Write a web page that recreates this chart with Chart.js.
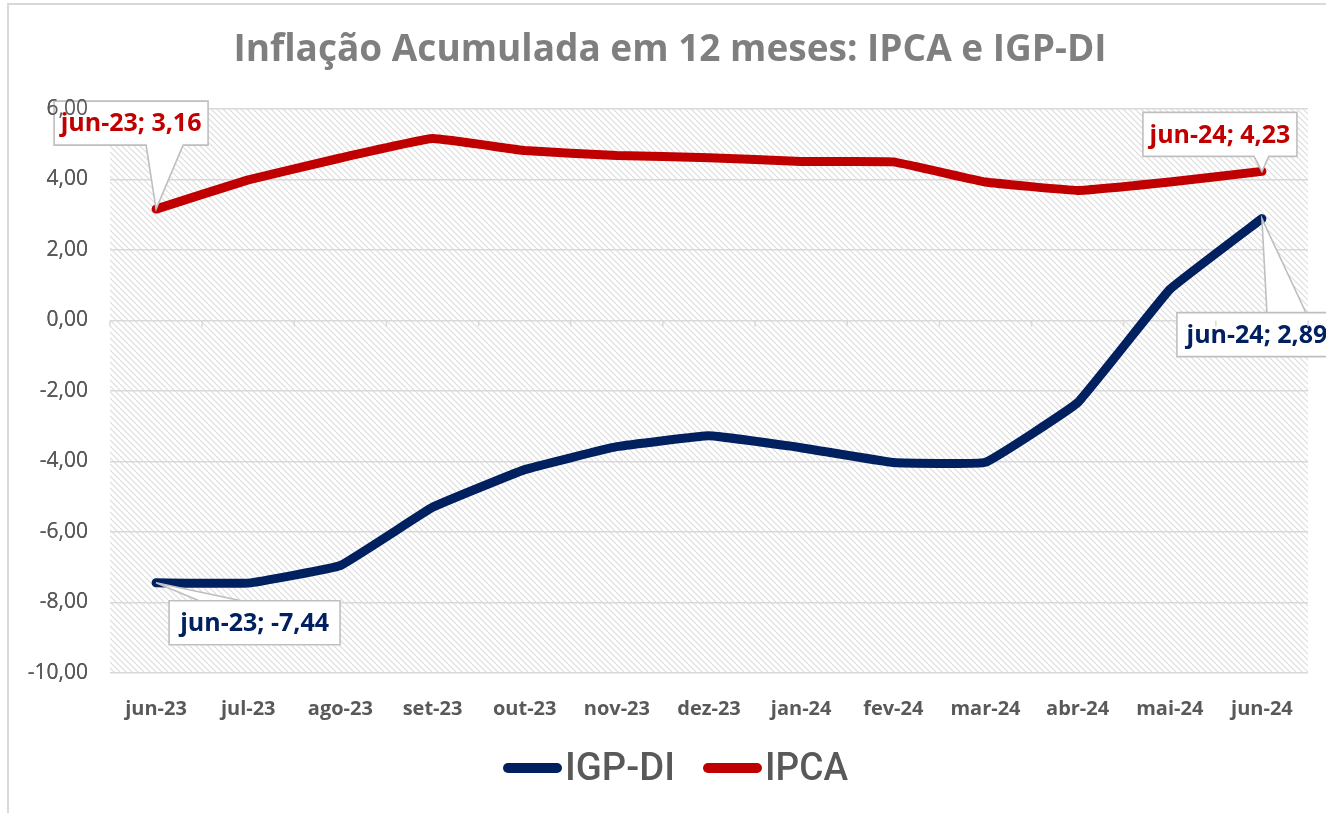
<!DOCTYPE html>
<html>
<head>
<meta charset="utf-8">
<script src="https://cdn.jsdelivr.net/npm/chart.js@4/dist/chart.umd.min.js"></script>
<style>
  html, body { margin: 0; padding: 0; background: #ffffff; overflow: hidden; }
  canvas { display: block; }
</style>
</head>
<body>
<canvas id="c" width="1326" height="813"></canvas>
<script>
// ---- data ----
const categories = ['jun-23','jul-23','ago-23','set-23','out-23','nov-23','dez-23','jan-24','fev-24','mar-24','abr-24','mai-24','jun-24'];
const igpdi = [-7.44, -7.45, -6.95, -5.30, -4.23, -3.58, -3.27, -3.61, -4.03, -4.02, -2.33, 0.88, 2.89];
const ipca  = [3.16, 3.99, 4.61, 5.16, 4.82, 4.68, 4.62, 4.51, 4.50, 3.93, 3.69, 3.93, 4.23];
const seriesNames = ['IGP-DI', 'IPCA'];
const titleText = 'Inflação Acumulada em 12 meses: IPCA e IGP-DI';
const yMin = -10, yMax = 6, yStep = 2;

const NAVY = '#002060';
const RED = '#C00000';
const GRID = '#d9d9d9';
const TXT = '#595959';
const FONT = '"Open Sans", "Liberation Sans", Arial, sans-serif';

const fmt = v => v.toFixed(2).replace('.', ',');

// callout styling: which point, box offset relative to point, pointer base on box edge
const callouts = [
  { ds: 1, idx: 0,  dx: -102, dy: -108, w: 154, h: 44, edge: 'bottom', b1: -10, b2: 27, size: 25 },
  { ds: 1, idx: 12, dx: -119, dy: -59,  w: 154, h: 44, edge: 'bottom', b1: -8, b2: 7, size: 25 },
  { ds: 0, idx: 12, dx: -85,  dy: 94,   w: 160, h: 44, edge: 'top', b1: 5, b2: 44, size: 25 },
  { ds: 0, idx: 0,  dx: 13,   dy: 18,   w: 171, h: 44, edge: 'top', b1: 43, b2: 85, size: 25 }
];

// hatch pattern
function makeHatch() {
  const s = 6;
  const p = document.createElement('canvas');
  p.width = s; p.height = s;
  const g = p.getContext('2d');
  g.strokeStyle = '#dcdcdc';
  g.lineWidth = 1.1;
  g.beginPath();
  g.moveTo(-1, -1); g.lineTo(s + 1, s + 1);
  g.moveTo(-1, s - 1); g.lineTo(1, s + 1);
  g.moveTo(s - 1, -1); g.lineTo(s + 1, 1);
  g.stroke();
  return p;
}

const decor = {
  id: 'decor',
  beforeDraw(chart) {
    const ctx = chart.ctx;
    const a = chart.chartArea;
    ctx.save();
    ctx.fillStyle = '#ffffff';
    ctx.fillRect(0, 0, chart.width, chart.height);
    // frame
    ctx.strokeStyle = GRID;
    ctx.lineWidth = 2;
    ctx.beginPath();
    ctx.moveTo(8, chart.height);
    ctx.lineTo(8, 4);
    ctx.lineTo(chart.width, 4);
    ctx.stroke();
    // hatch background
    ctx.fillStyle = ctx.createPattern(makeHatch(), 'repeat');
    ctx.fillRect(a.left, a.top, a.right - a.left, a.bottom - a.top);
    ctx.restore();
  },
  afterDatasetsDraw(chart) {
    const ctx = chart.ctx;
    ctx.save();
    callouts.forEach(c => {
      const ds = chart.data.datasets[c.ds];
      const pt = chart.getDatasetMeta(c.ds).data[c.idx];
      const px = pt.x, py = pt.y;
      const bx = px + c.dx, by = py + c.dy;
      const ey = c.edge === 'bottom' ? by + c.h : by;
      ctx.fillStyle = '#ffffff';
      ctx.strokeStyle = '#bfbfbf';
      ctx.lineWidth = 1.6;
      ctx.beginPath();
      ctx.moveTo(bx, by);
      ctx.lineTo(bx + c.w, by);
      ctx.lineTo(bx + c.w, by + c.h);
      if (c.edge === 'bottom') {
        ctx.lineTo(px + c.b2, ey);
        ctx.lineTo(px, py);
        ctx.lineTo(px + c.b1, ey);
        ctx.lineTo(bx, by + c.h);
        ctx.lineTo(bx, by);
      } else {
        ctx.lineTo(bx, by + c.h);
        ctx.lineTo(bx, by);
        ctx.lineTo(px + c.b1, ey);
        ctx.lineTo(px, py);
        ctx.lineTo(px + c.b2, ey);
        ctx.lineTo(bx, by);
      }
      ctx.closePath();
      ctx.fill();
      ctx.stroke();
      ctx.fillStyle = ds.borderColor;
      ctx.font = 'bold ' + c.size + 'px ' + FONT;
      ctx.textAlign = 'center';
      ctx.textBaseline = 'middle';
      ctx.fillText(categories[c.idx] + '; ' + fmt(ds.data[c.idx]), bx + c.w / 2, by + c.h / 2 + 1);
    });
    ctx.restore();
  },
  afterDraw(chart) {
    const ctx = chart.ctx;
    const a = chart.chartArea;
    const xs = chart.scales.x, ys = chart.scales.y;
    // y labels above the callouts
    ys.drawLabels(a);
    ctx.save();
    // tick marks on the zero axis
    const y0 = ys.getPixelForValue(0);
    const step = xs.getPixelForValue(1) - xs.getPixelForValue(0);
    ctx.strokeStyle = GRID;
    ctx.lineWidth = 1.5;
    ctx.beginPath();
    for (let i = 0; i <= categories.length; i++) {
      const x = xs.getPixelForValue(0) - step / 2 + i * step;
      ctx.moveTo(x, y0); ctx.lineTo(x, y0 + 6);
    }
    ctx.stroke();

    // title
    ctx.fillStyle = '#7f7f7f';
    ctx.font = 'bold 37px ' + FONT;
    ctx.textAlign = 'center';
    ctx.textBaseline = 'middle';
    ctx.fillText(titleText, 670, 50);

    // legend
    const colors = [NAVY, RED];
    const legendY = 768;
    const textW = [110, 83];
    let x = 508;
    ctx.font = '500 39px Roboto, ' + FONT;
    ctx.textAlign = 'left';
    seriesNames.forEach((n, i) => {
      ctx.strokeStyle = colors[i];
      ctx.lineWidth = 10;
      ctx.lineCap = 'round';
      ctx.beginPath();
      ctx.moveTo(x, legendY); ctx.lineTo(x + 49, legendY);
      ctx.stroke();
      ctx.fillStyle = TXT;
      const w = ctx.measureText(n).width;
      ctx.save();
      ctx.translate(x + 57, legendY + 2);
      ctx.scale(textW[i] / w, 1);
      ctx.fillText(n, 0, 0);
      ctx.restore();
      x += 57 + textW[i] + 33;
    });
    ctx.restore();
  }
};

new Chart(document.getElementById('c'), {
  type: 'line',
  data: {
    labels: categories,
    datasets: [
      { label: seriesNames[0], data: igpdi, borderColor: NAVY, backgroundColor: NAVY },
      { label: seriesNames[1], data: ipca, borderColor: RED, backgroundColor: RED }
    ]
  },
  options: {
    responsive: false,
    animation: false,
    devicePixelRatio: 1,
    layout: { padding: { left: 0, right: 18, top: 109, bottom: 0 } },
    elements: {
      line: { borderWidth: 9, tension: 0.08, borderCapStyle: 'round', borderJoinStyle: 'round', fill: false },
      point: { radius: 0, hoverRadius: 0 }
    },
    plugins: {
      legend: { display: false },
      title: { display: false },
      tooltip: { enabled: false }
    },
    scales: {
      x: {
        offset: true,
        grid: { display: false },
        border: { display: false },
        ticks: { color: TXT, font: { family: FONT, size: 20, weight: 'bold' }, padding: 16, maxRotation: 0 },
        afterFit(s) { s.height = 140; }
      },
      y: {
        min: yMin, max: yMax,
        grid: { color: GRID, lineWidth: 1.5, drawTicks: false },
        border: { display: false },
        ticks: { stepSize: yStep, color: TXT, font: { family: FONT, size: 21 }, padding: 22, callback: v => fmt(v) },
        afterFit(s) { s.width = 110; }
      }
    }
  },
  plugins: [decor]
});
</script>
</body>
</html>
